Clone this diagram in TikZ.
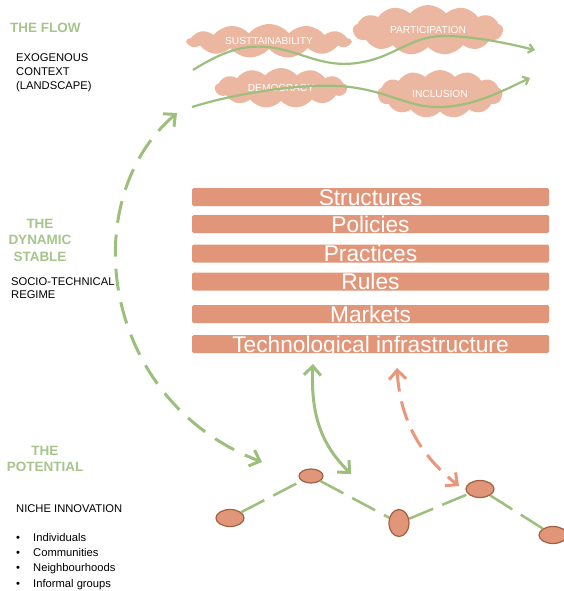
\documentclass[tikz,border=0pt]{standalone}
\usepackage{fontspec}
\setmainfont{Liberation Sans}
\usetikzlibrary{shapes.geometric,shapes.symbols,arrows.meta}
\definecolor{leaf}{HTML}{9DBF7E}
\definecolor{salmon}{HTML}{E29679}
\definecolor{peach}{HTML}{E9967B}
\definecolor{puff}{HTML}{EBB7A0}
\definecolor{bark}{HTML}{A0603F}
\definecolor{titlegreen}{HTML}{A6C48C}

\begin{document}
\begin{tikzpicture}[x=1pt,y=-1pt,
  layer/.style={fill=salmon,rounded corners=1.5pt,minimum width=357pt,minimum height=18pt,inner sep=0pt},
  layertext/.style={text=white,font=\fontsize{22.7}{22.7}\selectfont,inner sep=0pt,anchor=base},
  idea/.style={cloud,cloud puffs=13,cloud puff arc=100,cloud ignores aspect,fill=puff,text=white,font=\fontsize{10.2}{10.2}\selectfont,inner sep=0pt},
  seed/.style={ellipse,fill=salmon,draw=bark,line width=1.2pt,inner sep=0pt},
  heading/.style={text=titlegreen,font=\fontsize{13.5}{16.5}\selectfont\bfseries,inner sep=0pt,align=center},
  caption/.style={font=\fontsize{11.2}{14}\selectfont,inner sep=0pt,align=left},
  barb/.tip={Straight Barb[length=9pt,width=17pt]},
  smallbarb/.tip={Straight Barb[length=5pt,width=9pt]}]
\useasboundingbox (0,0) rectangle (563,591);

% left column
\node[heading,anchor=base west] (flow) at (10,33) {THE FLOW};
\node[caption,anchor=north west] (exo) at (16,53) {EXOGENOUS\\CONTEXT\\(LANDSCAPE)};
\node[heading,anchor=north] (dynamic) at (40,219) {THE\\DYNAMIC\\STABLE};
\node[caption,anchor=north west,font=\fontsize{11.2}{13.5}\selectfont] (regime) at (11,277) {SOCIO-TECHNICAL\\REGIME};
\node[heading,anchor=north] (potential) at (45,446) {THE\\POTENTIAL};
\node[caption,anchor=base west] (niche) at (16,512) {NICHE INNOVATION};
\node[caption,anchor=north west,font=\fontsize{11.2}{15.3}\selectfont] (groups) at (16,533)
  {\makebox[17pt][l]{\textbullet}Individuals\\\makebox[17pt][l]{\textbullet}Communities\\
   \makebox[17pt][l]{\textbullet}Neighbourhoods\\\makebox[17pt][l]{\textbullet}Informal groups};

% landscape clouds
\node[idea,minimum width=164pt,minimum height=34pt] (sust) at (269,41) {SUSTTAINABILITY};
\node[idea,minimum width=150pt,minimum height=50pt] (part) at (428,30) {PARTICIPATION};
\node[idea,minimum width=132pt,minimum height=40pt] (demo) at (281,88) {DEMOCRACY};
\node[idea,minimum width=125pt,minimum height=48pt] (incl) at (440,94) {INCLUSION};

\coordinate (wave1in) at (193,70);
\coordinate (wave1out) at (535,50);
\coordinate (wave2in) at (192,107);
\coordinate (wave2out) at (530,78);
\draw[leaf,line width=2.2pt,-{smallbarb}] (wave1in) .. controls (225,50) and (245,45) .. (267,47)
  .. controls (300,50) and (320,68) .. (357,63) .. controls (395,58) and (410,35) .. (447,36)
  .. controls (480,37) and (510,44) .. (wave1out);
\draw[leaf,line width=2.2pt,-{smallbarb}] (wave2in) .. controls (240,92) and (310,82) .. (350,87)
  .. controls (390,92) and (410,108) .. (440,107) .. controls (475,106) and (500,92) .. (wave2out);

% regime layers
\foreach \y/\name/\txt in {197/structures/Structures,224/policies/Policies,253.5/practices/Practices,
  281.5/rules/Rules,314/markets/Markets,344/techinfra/Technological infrastructure}
{
  \node[layer] (\name) at (370.5,\y) {};
  \node[layertext] at ([yshift=1pt]\name.south) {\txt};
}

% niches
\node[seed,minimum width=28pt,minimum height=17pt] (n1) at (230,518) {};
\node[seed,minimum width=24pt,minimum height=14pt] (n2) at (311,476) {};
\node[seed,minimum width=20pt,minimum height=27pt] (n3) at (399,523) {};
\node[seed,minimum width=28pt,minimum height=17pt] (n4) at (480,489) {};
\node[seed,minimum width=28pt,minimum height=17pt] (n5) at (553,535) {};
\foreach \a/\b in {n1/n2,n2/n3,n3/n4,n4/n5}
  \draw[leaf,line width=2.5pt,dash pattern=on 26pt off 10pt] (\a) -- (\b);

% links
\coordinate (flowtip) at (177,113);
\coordinate (nichetip) at (262,462);
\draw[leaf,line width=3pt,dash pattern=on 22pt off 12pt,{barb}-{barb}] (flowtip) .. controls (75,200) and (100,400) .. (nichetip);
\coordinate (regtip) at (313,364);
\coordinate (seedtip) at (351,474);
\draw[leaf,line width=3pt,{barb}-{barb}] (regtip) .. controls (310,420) and (325,448) .. (seedtip);
\coordinate (infratip) at (397,368);
\coordinate (marktip) at (459,486);
\draw[peach,line width=3pt,dash pattern=on 20pt off 10pt,{barb}-{barb}] (infratip) .. controls (400,420) and (420,455) .. (marktip);
\end{tikzpicture}
\end{document}
